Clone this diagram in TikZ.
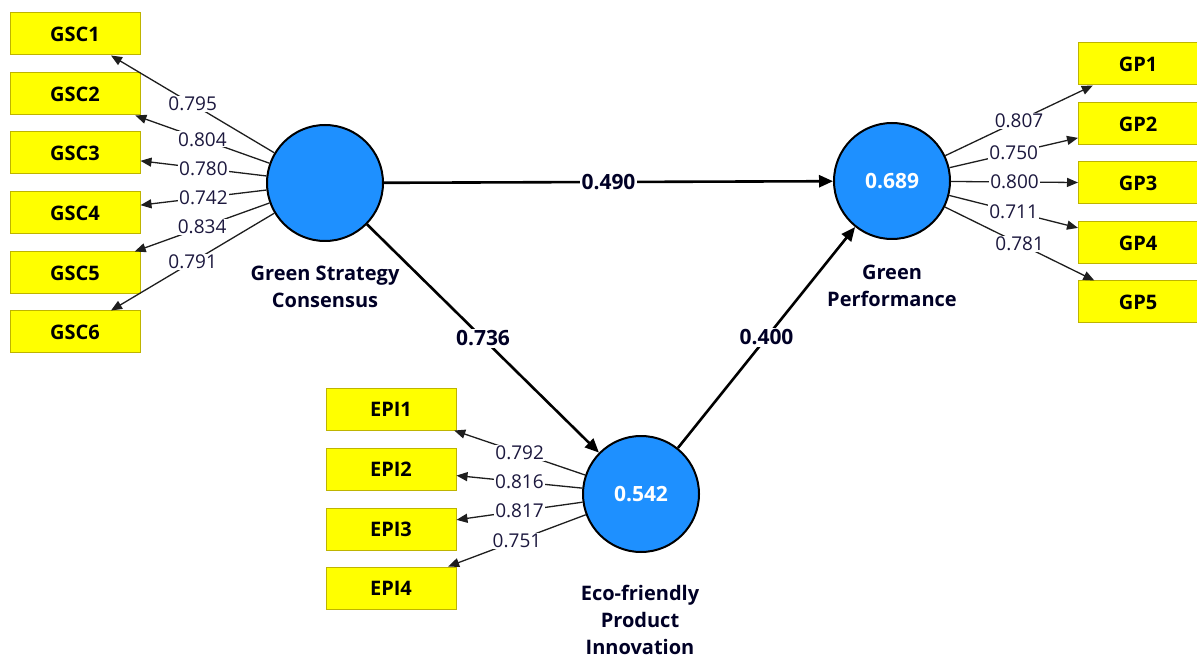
\documentclass[tikz,border=0pt]{standalone}
\usepackage{fontspec}
\setmainfont{Open Sans}
\usetikzlibrary{arrows.meta}
\definecolor{lvblue}{RGB}{30,144,255}
\definecolor{ind}{RGB}{255,255,0}
\definecolor{indborder}{RGB}{190,180,0}
\definecolor{loadtxt}{RGB}{28,24,62}
\definecolor{loadline}{RGB}{30,30,30}
\tikzset{
  indbox/.style={draw=indborder,line width=1pt,fill=ind,minimum width=130pt,minimum height=42pt,inner sep=0pt,font=\fontsize{20}{22}\selectfont\bfseries},
  lv/.style={circle,draw=black,line width=2pt,fill=lvblue,minimum size=116pt,inner sep=0pt,text=white,font=\fontsize{21}{22}\selectfont\bfseries},
  lvlab/.style={align=center,font=\fontsize{20}{27}\selectfont\bfseries,text=black!85!blue},
  load/.style={draw=loadline,line width=1.3pt,-{Triangle[length=11pt,width=9pt]}},
  lab/.style={fill=white,inner sep=1pt,text=loadtxt,font=\fontsize{19}{20}\selectfont},
  pathline/.style={draw=black,line width=2.6pt,-{Triangle[length=14pt,width=12pt]}},
  plab/.style={fill=white,inner sep=2pt,text=black!85!blue,font=\fontsize{21}{22}\selectfont\bfseries}
}
\begin{document}
\begin{tikzpicture}[x=1pt,y=-1pt]
\useasboundingbox[fill=white] (0,0) rectangle (1197,660);
% indicator boxes
\node[indbox] (gsc1) at (75,34) {GSC1};
\node[indbox] (gsc2) at (75,94) {GSC2};
\node[indbox] (gsc3) at (75,153) {GSC3};
\node[indbox] (gsc4) at (75,213) {GSC4};
\node[indbox] (gsc5) at (75,273) {GSC5};
\node[indbox] (gsc6) at (75,332) {GSC6};
\node[indbox,minimum width=119pt] (gp1) at (1138,64) {GP1};
\node[indbox,minimum width=119pt] (gp2) at (1138,124) {GP2};
\node[indbox,minimum width=119pt] (gp3) at (1138,183) {GP3};
\node[indbox,minimum width=119pt] (gp4) at (1138,243) {GP4};
\node[indbox,minimum width=119pt] (gp5) at (1138,302) {GP5};
\node[indbox] (epi1) at (391,409) {EPI1};
\node[indbox] (epi2) at (391,469) {EPI2};
\node[indbox] (epi3) at (391,529) {EPI3};
\node[indbox] (epi4) at (391,588) {EPI4};
% latent variables
\node[lv] (GSC) at (325,183) {};
\node[lv] (GP) at (892,181) {0.689};
\node[lv] (EPI) at (641,494) {0.542};
\node[lvlab] (gsclab) at (325,287) {Green Strategy\\Consensus};
\node[lvlab] (gplab) at (892,286) {Green\\Performance};
\node[lvlab] (epilab) at (640,620) {Eco-friendly\\Product\\Innovation};
% loadings
\draw[load] (GSC) -- node[lab]{0.795} (gsc1);
\draw[load] (GSC) -- node[lab]{0.804} (gsc2);
\draw[load] (GSC) -- node[lab]{0.780} (gsc3);
\draw[load] (GSC) -- node[lab]{0.742} (gsc4);
\draw[load] (GSC) -- node[lab]{0.834} (gsc5);
\draw[load] (GSC) -- node[lab]{0.791} (gsc6);
\draw[load] (GP) -- node[lab]{0.807} (gp1);
\draw[load] (GP) -- node[lab]{0.750} (gp2);
\draw[load] (GP) -- node[lab]{0.800} (gp3);
\draw[load] (GP) -- node[lab]{0.711} (gp4);
\draw[load] (GP) -- node[lab]{0.781} (gp5);
\draw[load] (EPI) -- node[lab]{0.792} (epi1);
\draw[load] (EPI) -- node[lab]{0.816} (epi2);
\draw[load] (EPI) -- node[lab]{0.817} (epi3);
\draw[load] (EPI) -- node[lab]{0.751} (epi4);
% structural paths
\draw[pathline] (GSC) -- node[plab]{0.490} (GP);
\draw[pathline] (GSC) -- node[plab]{0.736} (EPI);
\draw[pathline] (EPI) -- node[plab]{0.400} (GP);
\end{tikzpicture}
\end{document}
